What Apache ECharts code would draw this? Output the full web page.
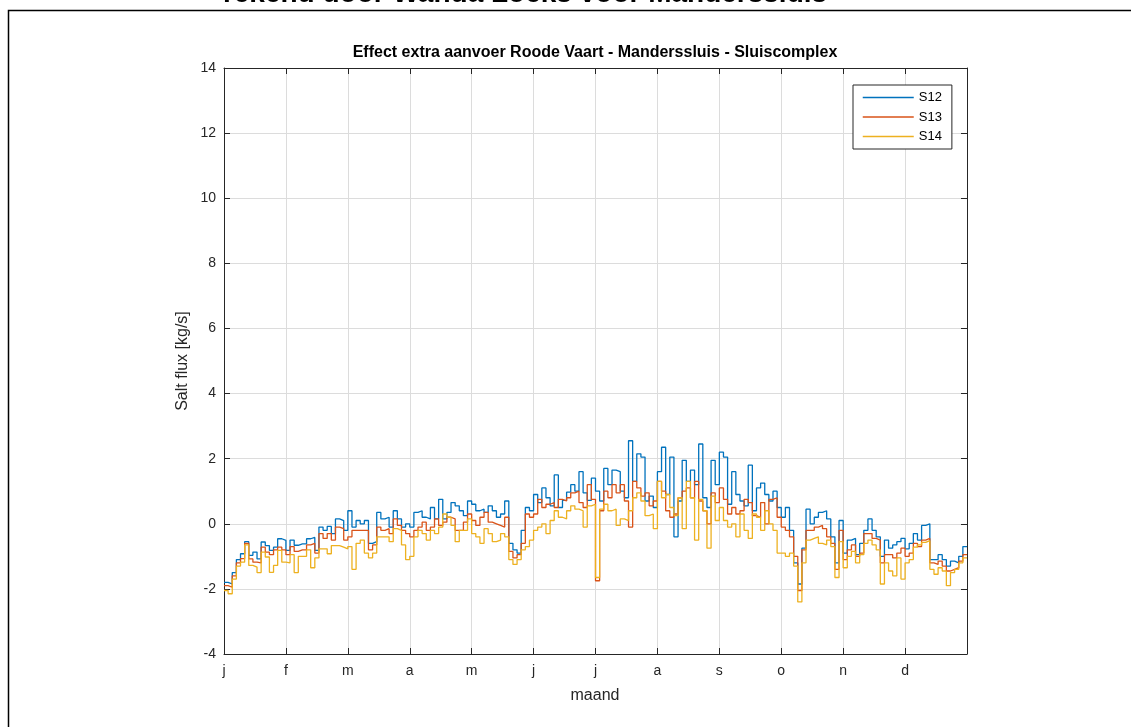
<!DOCTYPE html>
<html>
<head>
<meta charset="utf-8">
<script src="https://cdn.jsdelivr.net/npm/echarts@6/dist/echarts.min.js"></script>
<style>
  html, body { margin: 0; padding: 0; background: #fff; }
  #chart { width: 1131px; height: 727px; }
</style>
</head>
<body>
<div id="chart"></div>
<script>
// maand labels (x-as, 0..11)
var months = ['j', 'f', 'm', 'a', 'm', 'j', 'j', 'a', 's', 'o', 'n', 'd'];
var seriesNames = ['S12', 'S13', 'S14'];
// stappen per maand (ca. 2 dagen per stap)
var stepsPerMonth = 15;

// S12 - zoutvracht [kg/s], per maand 15 waarden
var s12 = [
    -1.8, -1.85, -1.5, -1.1, -0.92, -0.55, -0.97, -0.87, -1.08, -0.56, -0.67, -0.82, -0.72, -0.46, -0.51,
    -0.82, -0.5, -0.66, -0.62, -0.62, -0.46, -0.42, -0.82, -0.1, -0.2, -0.08, -0.3, 0.15, 0.1, -0.2,
    0.4, -0.1, 0.1, 0.0, 0.1, -0.6, -0.55, 0.35, 0.15, 0.2, -0.1, 0.4, 0.15, -0.1, 0.0,
    -0.1, 0.35, 0.4, 0.2, 0.15, 0.5, 0.15, 0.75, 0.15, 0.35, 0.65, 0.55, 0.4, 0.25, 0.7,
    0.6, 0.4, 0.45, 0.35, 0.55, 0.4, 0.2, 0.3, 0.7, -0.6, -0.8, -0.9, -0.2, 0.5, 0.4,
    0.9, 0.65, 1.1, 0.8, 0.55, 1.5, 0.5, 0.72, 0.97, 1.2, 1.0, 1.6, 0.95, 0.72, 1.4,
    1.0, 0.7, 1.7, 1.2, 1.65, 1.6, 1.0, 0.8, 2.55, 1.3, 2.15, 2.05, 0.7, 0.85, 0.5,
    1.6, 2.35, 0.9, 2.05, -0.4, 0.7, 1.95, 1.3, 1.65, 1.2, 2.45, 0.8, 0.5, 1.95, 1.2,
    2.2, 2.05, 0.6, 1.6, 0.9, 0.7, 0.55, 1.8, 0.4, 1.1, 1.25, 0.9, 0.7, 1.0, 0.5,
    0.2, 0.5, -0.2, -1.2, -1.85, -0.75, 0.45, 0.0, 0.2, 0.35, 0.4, 0.15, -0.4, -1.2, 0.1,
    -0.9, -0.5, -0.45, -0.95, -0.6, -0.2, 0.15, -0.2, -0.4, -1.0, -0.5, -0.75, -0.65, -0.55, -0.45,
    -0.77, -0.6, -0.3, -0.5, -0.05, 0.0, -1.1, -1.1, -0.95, -1.1, -1.3, -1.15, -1.2, -1.0, -0.7
];
// S13
var s13 = [
    -1.9, -1.95, -1.6, -1.2, -1.07, -0.6, -1.08, -1.18, -1.2, -0.72, -0.87, -0.95, -0.8, -0.72, -0.8,
    -0.95, -0.7, -0.85, -0.8, -0.8, -0.65, -0.6, -0.9, -0.3, -0.45, -0.3, -0.5, -0.1, -0.15, -0.5,
    -0.4, -0.2, -0.2, -0.2, -0.2, -0.8, -0.65, -0.1, -0.2, -0.15, -0.3, 0.15, -0.05, -0.2, -0.3,
    -0.4, -0.2, -0.1, 0.05, -0.2, -0.1, 0.15, -0.05, 0.05, 0.2, 0.15, -0.2, -0.2, 0.05, 0.3,
    0.1, -0.05, 0.2, 0.35, 0.05, 0.0, -0.05, -0.1, 0.2, -0.85, -1.05, -0.95, -0.6, 0.3, 0.2,
    0.3, 0.75, 0.5, 0.6, 0.65, 0.5, 0.75, 0.7, 0.8, 0.95, 1.0, 0.65, 0.5, 1.2, 0.75,
    -1.75, 0.4, 1.0, 0.8, 1.2, 0.95, 1.2, 0.7, -0.1, 1.3, 1.1, 0.85, 0.95, 0.55, 0.7,
    1.3, 1.0, 0.4, 0.2, 0.3, 0.8, 1.0, 1.1, 0.8, 1.3, 0.7, 0.4, 0.0, 0.95, 0.65,
    1.1, 0.75, 0.3, 0.5, 0.3, 0.4, 0.75, 0.65, 0.25, 0.2, 0.65, 0.0, 0.75, 0.8, 0.2,
    -0.1, -0.2, -0.4, -1.0, -2.05, -0.8, -0.2, -0.2, -0.1, -0.05, -0.15, -0.4, -0.6, -1.4, -0.2,
    -1.1, -0.8, -0.65, -1.0, -0.9, -0.3, -0.3, -0.45, -0.5, -1.2, -0.95, -0.95, -1.05, -0.9, -0.75,
    -1.0, -0.9, -0.6, -0.7, -0.5, -0.45, -1.2, -1.25, -1.15, -1.3, -1.45, -1.4, -1.35, -1.15, -0.95
];
// S14
var s14 = [
    -2.05, -2.15, -1.7, -1.3, -1.18, -0.65, -1.28, -1.33, -1.5, -0.87, -1.02, -1.49, -1.28, -0.82, -1.18,
    -1.2, -0.95, -1.5, -1.0, -1.0, -0.8, -1.35, -1.05, -0.77, -0.77, -0.92, -0.67, -0.67, -0.72, -0.77,
    -0.7, -1.4, -0.6, -0.5, -0.9, -1.05, -0.9, -0.4, -0.4, -0.4, -0.55, -0.15, -0.2, -0.65, -1.1,
    -1.0, -0.4, -0.2, -0.3, -0.5, -0.2, -0.3, -0.1, 0.3, 0.2, -0.05, -0.55, -0.2, -0.2, 0.15,
    -0.3, -0.4, -0.6, -0.15, -0.3, -0.55, -0.5, -0.3, -0.4, -1.1, -1.25, -1.1, -0.8, -0.7, -0.5,
    -0.2, -0.1, 0.0, -0.3, 0.1, 0.4, 0.2, 0.15, 0.4, 0.55, 0.45, 0.4, -0.1, 0.55, 0.6,
    -1.65, 0.45, 0.6, 0.4, 0.45, -0.05, 0.15, 0.1, 0.4, 0.8, 0.95, 0.7, 0.25, 0.3, -0.15,
    1.3, 0.8, 0.9, 0.5, 0.25, 0.8, -0.15, 1.3, 0.8, -0.5, 0.75, 0.4, -0.75, 0.85, 0.1,
    0.5, 0.1, -0.1, 0.0, -0.4, 0.3, -0.2, -0.45, 0.3, 0.2, -0.2, 0.4, 0.0, -0.2, -0.9,
    -0.9, -1.0, -0.9, -1.3, -2.4, -1.2, -0.5, -0.45, -0.4, -0.6, -0.65, -0.5, -0.7, -1.65, -0.55,
    -1.35, -1.0, -0.85, -1.2, -0.95, -0.6, -0.5, -0.65, -0.8, -1.85, -1.2, -1.45, -1.6, -1.05, -1.7,
    -1.2, -1.1, -0.72, -0.65, -0.57, -0.52, -1.4, -1.55, -1.35, -1.45, -1.9, -1.5, -1.4, -1.2, -1.05
];
var colors = ['#0072BD', '#D95319', '#EDB120'];

//omzetten naar [maand, waarde] paren voor trapjeslijn
function toPairs(values) {
    var out = [];
    for (var i = 0; i < values.length; i++) {
        out.push([i / stepsPerMonth, values[i]]);
    }
    out.push([values.length / stepsPerMonth, values[values.length - 1]]);
    return out;
}

var font = 'Liberation Sans, Arial, Helvetica, sans-serif';
var axisColor = '#262626';
var gridColor = '#dcdcdc';

var chart = echarts.init(document.getElementById('chart'), null, { renderer: 'canvas' });

var allData = [s12, s13, s14];
var series = [];
for (var k = 0; k < allData.length; k++) {
    series.push({
        name: seriesNames[k],
        type: 'line',
        step: 'end',
        symbol: 'none',
        showSymbol: false,
        animation: false,
        lineStyle: { color: colors[k], width: 1.3 },
        itemStyle: { color: colors[k] },
        data: toPairs(allData[k])
    });
}

var option = {
    backgroundColor: '#fff',
    animation: false,
    grid: { left: 224, right: 164, top: 68, bottom: 73, containLabel: false },
    legend: {
        orient: 'vertical',
        left: 853,
        top: 85,
        padding: [6, 10, 6, 9],
        itemGap: 6.5,
        itemWidth: 51,
        itemHeight: 14,
        backgroundColor: '#fff',
        borderColor: axisColor,
        borderWidth: 1,
        borderRadius: 0,
        itemStyle: { opacity: 0 },
        lineStyle: { width: 1.5 },
        textStyle: { fontFamily: font, fontSize: 13, color: '#000' },
        data: seriesNames
    },
    xAxis: [{
        type: 'value',
        min: 0,
        max: 12,
        interval: 1,
        position: 'bottom',
        axisLine: { show: true, onZero: false, lineStyle: { color: axisColor, width: 1 } },
        axisTick: { show: true, inside: true, length: 6, lineStyle: { color: axisColor } },
        axisLabel: {
            fontFamily: font, fontSize: 14, color: '#262626', margin: 10,
            formatter: function (v) { return months[v] || ''; }
        },
        splitLine: { show: true, lineStyle: { color: gridColor, width: 1 } }
    }, {
        type: 'value',
        min: 0,
        max: 12,
        interval: 1,
        position: 'top',
        axisLine: { show: true, onZero: false, lineStyle: { color: axisColor, width: 1 } },
        axisTick: { show: true, inside: true, length: 6, lineStyle: { color: axisColor } },
        axisLabel: { show: false },
        splitLine: { show: false }
    }],
    yAxis: [{
        type: 'value',
        min: -4,
        max: 14,
        interval: 2,
        position: 'left',
        axisLine: { show: true, onZero: false, lineStyle: { color: axisColor, width: 1 } },
        axisTick: { show: true, inside: true, length: 6, lineStyle: { color: axisColor } },
        axisLabel: { fontFamily: font, fontSize: 14, color: '#262626', margin: 8 },
        splitLine: { show: true, lineStyle: { color: gridColor, width: 1 } }
    }, {
        type: 'value',
        min: -4,
        max: 14,
        interval: 2,
        position: 'right',
        axisLine: { show: true, onZero: false, lineStyle: { color: axisColor, width: 1 } },
        axisTick: { show: true, inside: true, length: 6, lineStyle: { color: axisColor } },
        axisLabel: { show: false },
        splitLine: { show: false }
    }],
    graphic: [
        {
            type: 'rect',
            shape: { x: 8.5, y: 10.5, width: 1125, height: 800 },
            style: { fill: 'none', stroke: '#000', lineWidth: 1.5 },
            silent: true
        },
        {
            type: 'text',
            x: 525, y: -6,
            style: {
                text: 'rekend door Wanda Loeks voor Manderssluis',
                font: 'bold 28px ' + font,
                fill: '#000',
                align: 'center',
                verticalAlign: 'middle'
            }
        },
        {
            type: 'text',
            x: 595, y: 53,
            style: {
                text: 'Effect extra aanvoer Roode Vaart - Manderssluis - Sluiscomplex',
                font: 'bold 16px ' + font,
                fill: '#000',
                align: 'center',
                verticalAlign: 'middle'
            }
        },
        {
            type: 'text',
            x: 183, y: 361,
            rotation: Math.PI / 2,
            style: {
                text: 'Salt flux [kg/s]',
                font: '16px ' + font,
                fill: '#262626',
                align: 'center',
                verticalAlign: 'middle'
            }
        },
        {
            type: 'text',
            x: 595, y: 696,
            style: {
                text: 'maand',
                font: '16px ' + font,
                fill: '#262626',
                align: 'center',
                verticalAlign: 'middle'
            }
        }
    ],
    series: series
};

chart.setOption(option);
</script>
</body>
</html>
